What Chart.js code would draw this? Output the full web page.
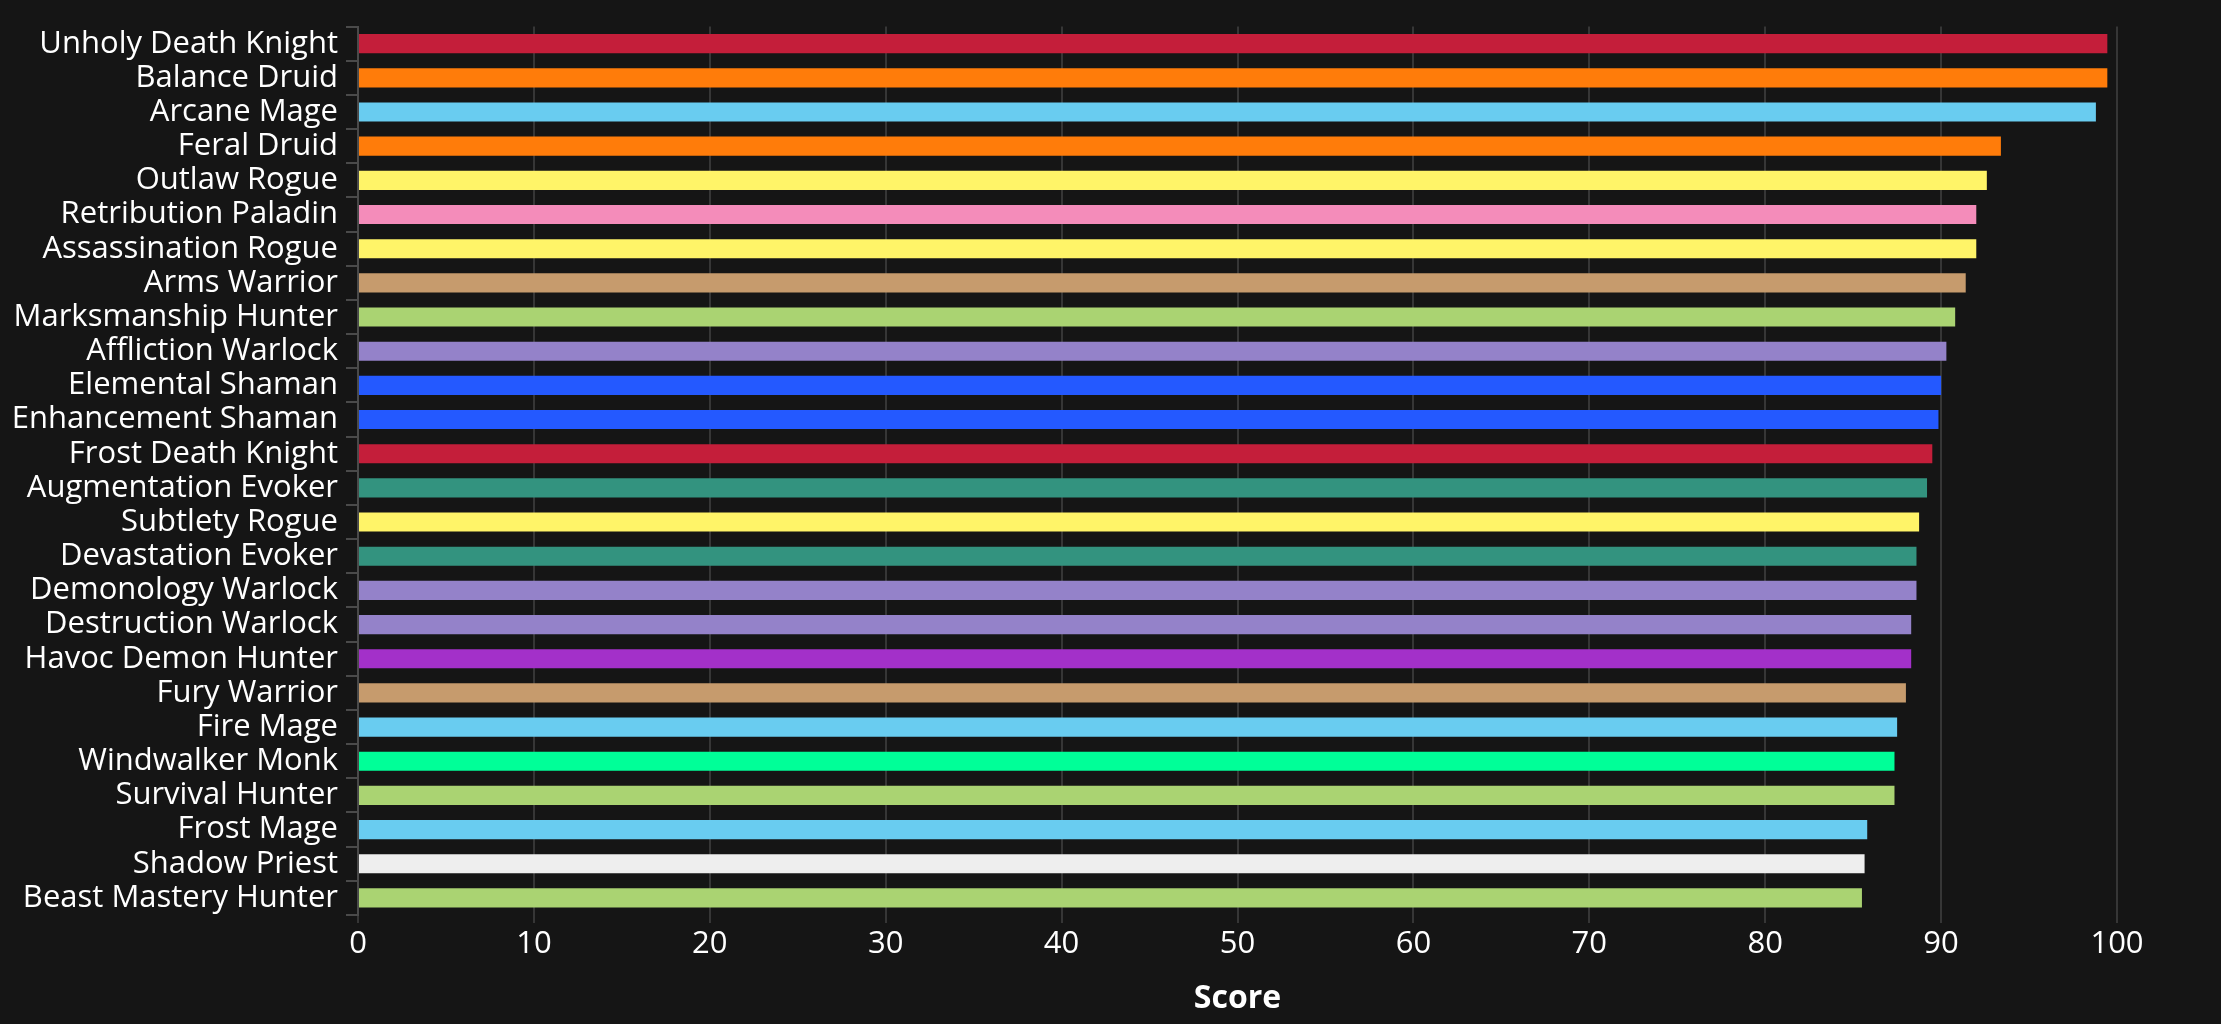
<!DOCTYPE html>
<html>
<head>
<meta charset="utf-8">
<script src="https://cdn.jsdelivr.net/npm/chart.js@4/dist/chart.umd.min.js"></script>
<style>
  html, body { margin: 0; padding: 0; background: #151515; }
  #wrap { width: 2221px; height: 1024px; }
</style>
</head>
<body>
<div id="wrap"><canvas id="chart"></canvas></div>
<script>
// specs, top to bottom
const specs = [
  'Unholy Death Knight', 'Balance Druid', 'Arcane Mage', 'Feral Druid', 'Outlaw Rogue',
  'Retribution Paladin', 'Assassination Rogue', 'Arms Warrior', 'Marksmanship Hunter',
  'Affliction Warlock', 'Elemental Shaman', 'Enhancement Shaman', 'Frost Death Knight',
  'Augmentation Evoker', 'Subtlety Rogue', 'Devastation Evoker', 'Demonology Warlock',
  'Destruction Warlock', 'Havoc Demon Hunter', 'Fury Warrior', 'Fire Mage',
  'Windwalker Monk', 'Survival Hunter', 'Frost Mage', 'Shadow Priest', 'Beast Mastery Hunter'
];

const scores = [
  99.45, 99.45, 98.8, 93.4, 92.6,
  92.0, 92.0, 91.4, 90.8,
  90.3, 90.0, 89.85, 89.5,
  89.2, 88.75, 88.6, 88.6,
  88.3, 88.3, 88.0, 87.5,
  87.35, 87.35, 85.8, 85.65, 85.5
];

// class colours per bar
const barColors = [
  '#C41E3A', '#FF7C0A', '#69CCF0', '#FF7C0A', '#FFF468',
  '#F48CBA', '#FFF468', '#C69B6D', '#AAD372',
  '#9482C9', '#2459FF', '#2459FF', '#C41E3A',
  '#33937F', '#FFF468', '#33937F', '#9482C9',
  '#9482C9', '#A330C9', '#C69B6D', '#69CCF0',
  '#00FF98', '#AAD372', '#69CCF0', '#EEEEEE', '#AAD372'
];

const xTicks = [0, 10, 20, 30, 40, 50, 60, 70, 80, 90, 100];

const FONT = '"Open Sans", "Noto Sans", sans-serif';

const ctx = document.getElementById('chart').getContext('2d');
new Chart(ctx, {
  type: 'bar',
  data: {
    labels: specs,
    datasets: [{
      label: 'Score',
      data: scores,
      backgroundColor: barColors,
      borderColor: barColors,
      borderWidth: 0
    }]
  },
  options: {
    indexAxis: 'y',
    responsive: true,
    maintainAspectRatio: false,
    animation: false,
    layout: { padding: { top: 26, right: 104, left: 0, bottom: 0 } },
    datasets: { bar: { barPercentage: 0.56, categoryPercentage: 1 } },
    scales: {
      x: {
        min: 0,
        max: 100,
        afterBuildTicks: (s) => { s.ticks = xTicks.map(v => ({ value: v })); },
        afterFit: (s) => { s.height = 109; },
        grid: { color: '#363636', lineWidth: 2, drawTicks: true, tickLength: 8 },
        border: { display: false },
        ticks: { color: '#ffffff', font: { family: FONT, size: 31 }, padding: 3 },
        title: {
          display: true, text: 'Score', color: '#ffffff',
          font: { family: FONT, size: 32, weight: 'bold' }, padding: { top: 10, bottom: 6 }
        }
      },
      y: {
        afterFit: (s) => { s.width = 358; },
        grid: { display: true, drawOnChartArea: false, color: '#4a4a4a', tickLength: 12, lineWidth: 2 },
        border: { display: true, color: '#4a4a4a', width: 2 },
        ticks: { color: '#ffffff', font: { family: FONT, size: 31 }, padding: 8, autoSkip: false }
      }
    },
    plugins: {
      legend: { display: false },
      tooltip: { enabled: false }
    }
  }
});
</script>
</body>
</html>
